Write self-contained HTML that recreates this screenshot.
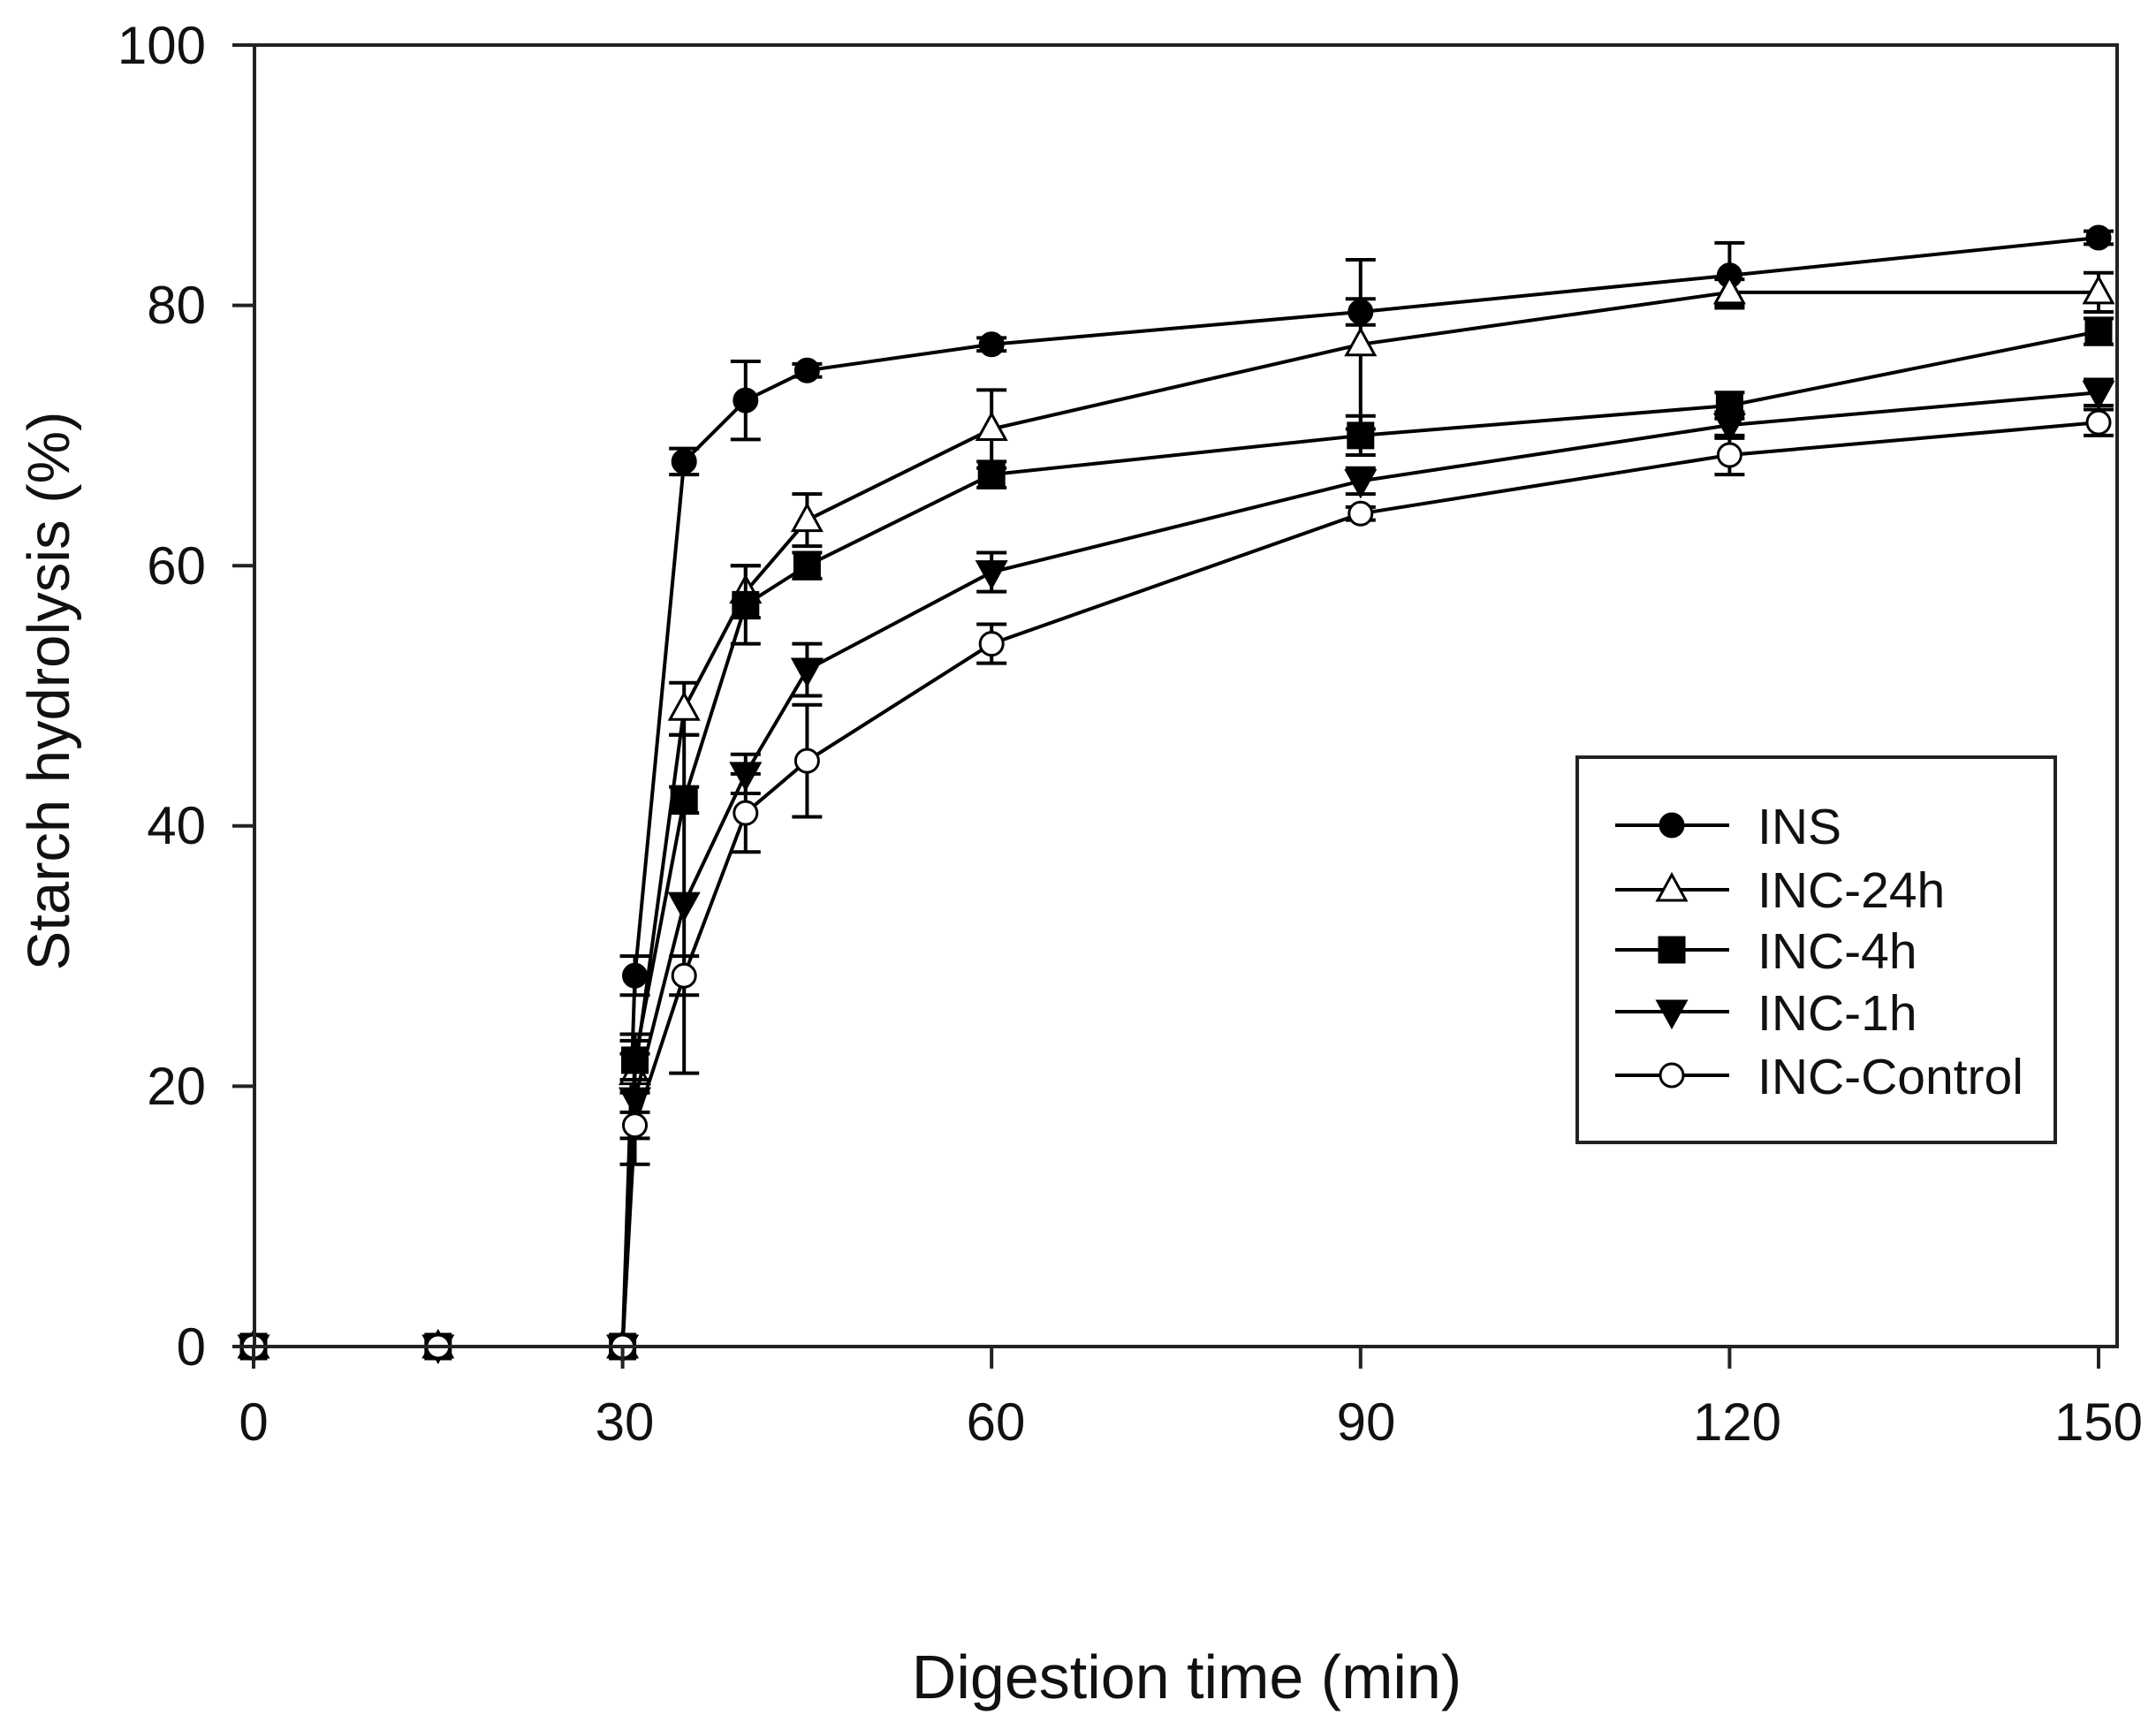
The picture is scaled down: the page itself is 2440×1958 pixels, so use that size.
<!DOCTYPE html>
<html><head><meta charset="utf-8"><style>
html,body{margin:0;padding:0;background:#fff;}
svg{display:block;}
text{font-family:"Liberation Sans",Arial,sans-serif;fill:#111;}
</style></head><body>
<svg id="s" width="2440" height="1958" xmlns="http://www.w3.org/2000/svg">
<rect x="0" y="0" width="2440" height="1958" fill="#fff"/>
<g id="plot"></g>
<rect x="288" y="51" width="2108" height="1473" fill="none" stroke="#222" stroke-width="4"/>
<g stroke="#222" stroke-width="4" id="ticks"></g>
<g font-size="60" text-anchor="end">
<text x="233" y="72">100</text>
<text x="233" y="366">80</text>
<text x="233" y="661">60</text>
<text x="233" y="955">40</text>
<text x="233" y="1250">20</text>
<text x="233" y="1545">0</text>
</g>
<g font-size="60" text-anchor="middle">
<text x="287" y="1630">0</text>
<text x="707" y="1630">30</text>
<text x="1127" y="1630">60</text>
<text x="1546" y="1630">90</text>
<text x="1966" y="1630">120</text>
<text x="2375" y="1630">150</text>
</g>
<text x="1343" y="1922" font-size="70" text-anchor="middle">Digestion time (min)</text>
<text transform="translate(78,782) rotate(-90)" font-size="67" text-anchor="middle">Starch hydrolysis (%)</text>
<rect x="1785" y="857" width="541" height="436" fill="#fff" stroke="#222" stroke-width="4"/>
<g id="leg"></g>
<g font-size="57">
<text x="1989" y="955">INS</text>
<text x="1989" y="1027">INC-24h</text>
<text x="1989" y="1096">INC-4h</text>
<text x="1989" y="1166">INC-1h</text>
<text x="1989" y="1238">INC-Control</text>
</g>
</svg>
<script>
var NS="http://www.w3.org/2000/svg";
function X(t){return 287+t*(2375-287)/150;}
function Y(v){return 1524-v*14.73;}
function el(p,n,a){var e=document.createElementNS(NS,n);for(var k in a)e.setAttribute(k,a[k]);p.appendChild(e);return e;}
var tk=document.getElementById('ticks');
[0,20,40,60,80,100].forEach(function(v){el(tk,'line',{x1:263,x2:288,y1:Y(v),y2:Y(v)});});
[0,30,60,90,120,150].forEach(function(t){el(tk,'line',{x1:X(t),x2:X(t),y1:1524,y2:1549});});
var T=[0,15,30,31,35,40,45,60,90,120,150];
var S=[
 {m:'c',f:'#000',d:[0,0,0,28.5,68,72.7,75,77,79.5,82.3,85.2],e:[0,0,0,1.5,1,3,0.5,0.5,1,2.5,0.5]},
 {m:'t',f:'#fff',d:[0,0,0,21,49,58,63.5,70.5,77,81,81],e:[0,0,0,1.5,2,2,2,3,6.5,1,1.5]},
 {m:'s',f:'#000',d:[0,0,0,22,42,57,60,67,70,72.3,78],e:[0,0,0,1.5,1,3,1,1,1.5,1,1]},
 {m:'v',f:'#000',d:[0,0,0,19,34,44,52,59.5,66.5,70.8,73.3],e:[0,0,0,5,13,1.5,2,1.5,1,1,1]},
 {m:'o',f:'#fff',d:[0,0,0,17,28.5,41,45,54,64,68.5,71],e:[0,0,0,1,1.5,3,4.3,1.5,0.5,1.5,1]}
];
var g=document.getElementById('plot');
function mark(p,m,f,x,y){
 var a={fill:f,stroke:'#000','stroke-width':3};
 if(m=='c'||m=='o'){a.cx=x;a.cy=y;a.r=13;el(p,'circle',a);}
 else if(m=='s'){a.x=x-14;a.y=y-14;a.width=28;a.height=28;el(p,'rect',a);}
 else if(m=='t'){a.points=(x)+','+(y-17)+' '+(x-16)+','+(y+12)+' '+(x+16)+','+(y+12);el(p,'polygon',a);}
 else {a.points=(x)+','+(y+17)+' '+(x-16)+','+(y-12)+' '+(x+16)+','+(y-12);el(p,'polygon',a);}
}
S.forEach(function(s){
 var pts=T.map(function(t,i){return X(t)+','+Y(s.d[i]);}).join(' ');
 el(g,'polyline',{points:pts,fill:'none',stroke:'#000','stroke-width':4});
 T.forEach(function(t,i){if(s.e[i]>0){var x=X(t),y1=Y(s.d[i]+s.e[i]),y2=Y(s.d[i]-s.e[i]);
  el(g,'line',{x1:x,x2:x,y1:y1,y2:y2,stroke:'#000','stroke-width':4});
  el(g,'line',{x1:x-17,x2:x+17,y1:y1,y2:y1,stroke:'#000','stroke-width':4});
  el(g,'line',{x1:x-17,x2:x+17,y1:y2,y2:y2,stroke:'#000','stroke-width':4});}});
 T.forEach(function(t,i){mark(g,s.m,s.f,X(t),Y(s.d[i]));});
});
var lg=document.getElementById('leg');var ly=[934,1007,1075,1145,1217];
S.forEach(function(s,i){el(lg,'line',{x1:1828,x2:1957,y1:ly[i],y2:ly[i],stroke:'#000','stroke-width':4});mark(lg,s.m,s.f,1892,ly[i]);});
</script>
</body></html>
